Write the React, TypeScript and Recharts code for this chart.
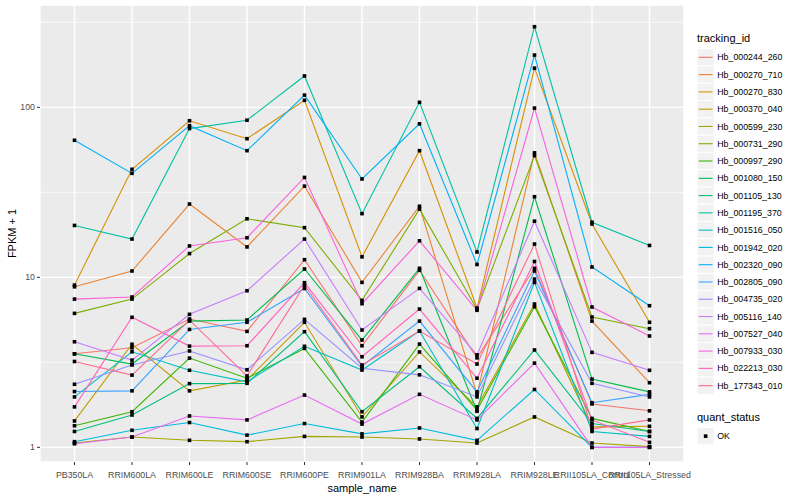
import React from "react";
import {
  CartesianGrid,
  Line,
  LineChart,
  ReferenceLine,
  XAxis,
  YAxis,
} from "recharts";

const categories = [
  "PB350LA",
  "RRIM600LA",
  "RRIM600LE",
  "RRIM600SE",
  "RRIM600PE",
  "RRIM901LA",
  "RRIM928BA",
  "RRIM928LA",
  "RRIM928LE",
  "RRII105LA_Control",
  "RRII105LA_Stressed",
];

const trackingIds = [
  "Hb_000244_260",
  "Hb_000270_710",
  "Hb_000270_830",
  "Hb_000370_040",
  "Hb_000599_230",
  "Hb_000731_290",
  "Hb_000997_290",
  "Hb_001080_150",
  "Hb_001105_130",
  "Hb_001195_370",
  "Hb_001516_050",
  "Hb_001942_020",
  "Hb_002320_090",
  "Hb_002805_090",
  "Hb_004735_020",
  "Hb_005116_140",
  "Hb_007527_040",
  "Hb_007933_030",
  "Hb_022213_030",
  "Hb_177343_010",
];

// FPKM + 1, one value per sample
const hb000244_260 = [3.55, 3.85, 5.69, 4.81, 12.7, 3.96, 11.0, 3.36, 11.3, 1.8, 1.64];
const hb000270_710 = [8.8, 10.9, 27, 15.1, 34.4, 9.34, 26.2, 2.05, 54, 5.53, 2.4];
const hb000270_830 = [9.0, 43.2, 83.4, 65.4, 110, 13.2, 55.6, 6.6, 170, 20.6, 5.44];
const hb000370_040 = [1.43, 4.04, 2.15, 2.49, 5.44, 1.51, 3.64, 1.73, 6.97, 1.32, 1.33];
const hb000599_230 = [1.06, 1.15, 1.1, 1.08, 1.16, 1.15, 1.12, 1.06, 1.51, 1.06, 1.01];
const hb000731_290 = [6.14, 7.45, 13.8, 22.1, 19.6, 7.32, 25.2, 6.5, 52, 5.84, 4.99];
const hb000997_290 = [1.34, 1.62, 3.35, 2.55, 3.82, 1.41, 4.05, 1.66, 6.72, 1.48, 1.24];
const hb001080_150 = [3.55, 3.09, 5.53, 5.61, 11.2, 4.28, 11.3, 1.63, 29.8, 2.52, 2.12];
const hb001105_130 = [1.24, 1.55, 2.37, 2.38, 4.79, 1.62, 2.98, 1.48, 3.74, 1.38, 1.24];
const hb001195_370 = [20.2, 16.8, 75, 84, 153, 23.7, 107, 14.1, 298, 21.1, 15.4];
const hb001516_050 = [1.98, 3.65, 2.84, 2.43, 3.93, 2.85, 4.83, 1.29, 9.34, 1.24, 1.16];
const hb001942_020 = [1.08, 1.26, 1.4, 1.18, 1.38, 1.2, 1.3, 1.1, 2.19, 1.0, 1.0];
const hb002320_090 = [64, 40.9, 78, 55.6, 118, 37.9, 80, 11.9, 203, 11.5, 6.81];
const hb002805_090 = [2.13, 2.15, 4.94, 5.44, 8.6, 3.0, 5.53, 2.12, 10.9, 1.83, 2.05];
const hb004735_020 = [2.35, 3.05, 3.69, 2.86, 5.66, 2.92, 2.67, 1.98, 9.77, 2.38, 1.98];
const hb005116_140 = [4.18, 3.26, 6.06, 8.34, 16.8, 4.9, 8.61, 3.5, 21.4, 3.62, 2.84];
const hb007527_040 = [1.05, 1.15, 1.53, 1.45, 2.03, 1.37, 2.05, 1.45, 3.13, 1.0, 1.0];
const hb007933_030 = [7.45, 7.66, 15.3, 17.1, 38.7, 7.0, 16.4, 6.4, 99, 6.69, 4.52];
const hb022213_030 = [1.73, 5.82, 3.94, 3.96, 9.3, 3.41, 6.51, 2.55, 12.4, 1.45, 1.07];
const hb177343_010 = [3.2, 2.66, 5.6, 2.63, 9.0, 3.05, 4.83, 3.09, 15.7, 1.28, 1.45];

const seriesValues = [
  hb000244_260, hb000270_710, hb000270_830, hb000370_040, hb000599_230,
  hb000731_290, hb000997_290, hb001080_150, hb001105_130, hb001195_370,
  hb001516_050, hb001942_020, hb002320_090, hb002805_090, hb004735_020,
  hb005116_140, hb007527_040, hb007933_030, hb022213_030, hb177343_010,
];

// ggplot2 default hue palette for 20 levels
const colors = [
  "#F8766D", "#EA8331", "#D89000", "#C09B00", "#A3A500",
  "#7CAE00", "#39B600", "#00BB4E", "#00BF7D", "#00C1A3",
  "#00BFC4", "#00BAE0", "#00B0F6", "#35A2FF", "#9590FF",
  "#C77CFF", "#E76BF3", "#FA62DB", "#FF62BC", "#FF6C91",
];

const yTicks = [1, 10, 100];
const yMinor = [3.1623, 31.623, 316.23];

const FONT = '"Liberation Sans", Arial, Helvetica, sans-serif';

const data = categories.map((name, i) => {
  const row: Record<string, number | string> = { name };
  trackingIds.forEach((id, s) => {
    row[id] = seriesValues[s][i];
  });
  return row;
});

function XTick({ x, y, payload }: any) {
  return (
    <text
      x={x}
      y={y + 11}
      textAnchor="middle"
      fontSize={8.8}
      fontFamily={FONT}
      fill="#4D4D4D"
    >
      {payload.value}
    </text>
  );
}

function YTick({ x, y, payload }: any) {
  return (
    <text
      x={x}
      y={y + 3}
      textAnchor="end"
      fontSize={8.8}
      fontFamily={FONT}
      fill="#4D4D4D"
    >
      {payload.value}
    </text>
  );
}

function squareDot(props: any) {
  const { cx, cy, index, dataKey } = props;
  if (cx == null || cy == null) return <g key={`${dataKey}-${index}`} />;
  return (
    <rect
      key={`${dataKey}-${index}`}
      x={cx - 1.8}
      y={cy - 1.8}
      width={3.6}
      height={3.6}
      fill="#000000"
    />
  );
}

function Legends() {
  const keyX = 697;
  const keySize = 17.28;
  const firstY = 48.7;
  return (
    <svg
      width={800}
      height={500}
      style={{ position: "absolute", left: 0, top: 0, pointerEvents: "none" }}
    >
      <text x={697} y={42} fontSize={11} fontFamily={FONT} fill="#000">
        tracking_id
      </text>
      {trackingIds.map((id, i) => {
        const top = firstY + i * keySize;
        return (
          <g key={id}>
            <rect
              x={keyX}
              y={top}
              width={keySize}
              height={keySize}
              fill="#F2F2F2"
              stroke="#FFFFFF"
              strokeWidth={1}
            />
            <line
              x1={keyX + 1.7}
              x2={keyX + keySize - 1.7}
              y1={top + keySize / 2}
              y2={top + keySize / 2}
              stroke={colors[i]}
              strokeWidth={1.1}
            />
            <text
              x={keyX + keySize + 3}
              y={top + keySize / 2 + 3.1}
              fontSize={8.8}
              fontFamily={FONT}
              fill="#000"
            >
              {id}
            </text>
          </g>
        );
      })}
      <text x={697} y={421} fontSize={11} fontFamily={FONT} fill="#000">
        quant_status
      </text>
      <rect
        x={keyX}
        y={427.5}
        width={keySize}
        height={keySize}
        fill="#F2F2F2"
        stroke="#FFFFFF"
        strokeWidth={1}
      />
      <rect
        x={keyX + keySize / 2 - 1.8}
        y={427.5 + keySize / 2 - 1.8}
        width={3.6}
        height={3.6}
        fill="#000"
      />
      <text x={keyX + keySize + 3} y={427.5 + keySize / 2 + 3.1} fontSize={8.8} fontFamily={FONT} fill="#000">
        OK
      </text>
      <text x={362} y={492} textAnchor="middle" fontSize={11} fontFamily={FONT} fill="#000">
        sample_name
      </text>
      <text
        x={0}
        y={0}
        transform="translate(16 233.5) rotate(-90)"
        textAnchor="middle"
        fontSize={11}
        fontFamily={FONT}
        fill="#000"
      >
        FPKM + 1
      </text>
    </svg>
  );
}

export default function App() {
  return (
    <div
      style={{
        position: "absolute",
        left: 0,
        top: 0,
        width: 800,
        height: 500,
        background: "#FFFFFF",
      }}
    >
      <LineChart
        width={800}
        height={500}
        data={data}
        margin={{ top: 5, right: 116, bottom: 0, left: 0 }}
      >
        <CartesianGrid fill="#EBEBEB" stroke="#FFFFFF" strokeWidth={1.4} />
        {yMinor.map((v) => (
          <ReferenceLine key={v} y={v} stroke="#FFFFFF" strokeWidth={0.7} />
        ))}
        <XAxis
          dataKey="name"
          interval={0}
          padding={{ left: 34.5, right: 34.5 }}
          height={38}
          axisLine={false}
          tickSize={3}
          tickLine={{ stroke: "#333333", strokeWidth: 1 }}
          tick={<XTick />}
        />
        <YAxis
          scale="log"
          domain={[0.82, 400]}
          ticks={yTicks}
          allowDataOverflow
          width={40}
          axisLine={false}
          tickSize={3}
          tickLine={{ stroke: "#333333", strokeWidth: 1 }}
          tick={<YTick />}
        />
        {trackingIds.map((id, i) => (
          <Line
            key={id}
            dataKey={id}
            stroke={colors[i]}
            strokeWidth={1.1}
            dot={false}
            activeDot={false}
            isAnimationActive={false}
          />
        ))}
        {trackingIds.map((id) => (
          <Line
            key={`pt-${id}`}
            dataKey={id}
            stroke="none"
            dot={squareDot}
            activeDot={false}
            legendType="none"
            isAnimationActive={false}
          />
        ))}
      </LineChart>
      <Legends />
    </div>
  );
}
